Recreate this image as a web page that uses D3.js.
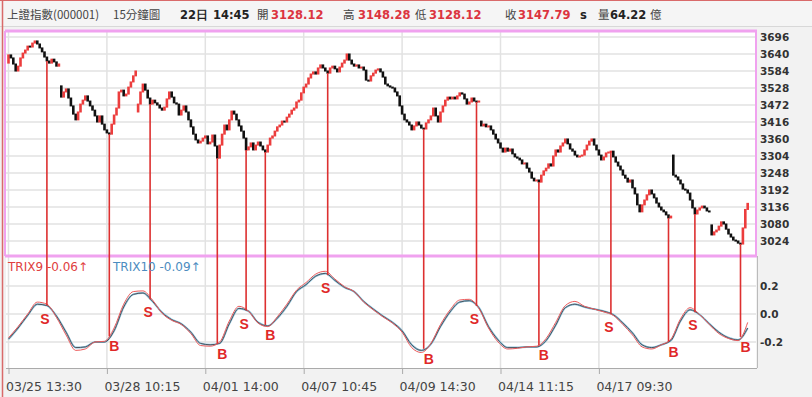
<!DOCTYPE html>
<html>
<head>
<meta charset="utf-8">
<script src="https://cdn.jsdelivr.net/npm/d3@7"></script>
<style>
body { margin: 0; background: #f2f2f2; }
svg { display: block; }
</style>
</head>
<body>
<div id="graph"></div>
<script>
// 15-minute closes, one per bar, 03/25 13:30 .. 04/22 14:45
var closes = [
	3637,3627,3607,3584,3600,3627,3643,3653,3666,3663,
	3676,3683,3673,3660,3647,3630,3617,3610,3623,3614,
	3600,3607,3498,3515,3525,3495,3469,3442,3423,3449,
	3475,3488,3502,3485,3469,3455,3436,3416,3436,3409,
	3390,3380,3376,3409,3439,3462,3515,3521,3502,3508,
	3531,3548,3568,3584,3475,3515,3541,3521,3495,3475,
	3488,3479,3472,3462,3455,3465,3492,3515,3498,3479,
	3475,3439,3455,3469,3449,3423,3400,3376,3357,3347,
	3353,3363,3370,3344,3350,3373,3337,3297,3340,3376,
	3406,3390,3423,3452,3442,3423,3403,3386,3363,3324,
	3334,3347,3324,3340,3350,3337,3324,3317,3340,3363,
	3370,3386,3400,3406,3419,3416,3432,3442,3455,3462,
	3482,3488,3512,3531,3541,3561,3574,3581,3574,3594,
	3604,3594,3584,3577,3594,3600,3591,3581,3597,3610,
	3620,3640,3620,3607,3600,3604,3594,3597,3587,3554,
	3551,3568,3577,3587,3591,3581,3564,3541,3535,3531,
	3528,3515,3502,3469,3442,3423,3416,3406,3390,3403,
	3416,3406,3396,3393,3413,3423,3436,3462,3436,3416,
	3449,3469,3488,3498,3492,3498,3492,3502,3512,3508,
	3492,3475,3482,3495,3485,3482,3485,3403,3409,3400,
	3403,3390,3376,3360,3347,3330,3317,3330,3320,3327,
	3311,3301,3297,3291,3278,3281,3264,3251,3231,3222,
	3225,3218,3241,3255,3264,3278,3271,3304,3324,3317,
	3337,3347,3360,3344,3327,3320,3307,3301,3304,3307,
	3324,3340,3353,3360,3340,3324,3307,3291,3301,3314,
	3317,3320,3301,3284,3271,3258,3241,3231,3218,3225,
	3199,3179,3143,3120,3143,3159,3176,3192,3179,3166,
	3149,3136,3126,3120,3110,3100,3106,3241,3235,3225,
	3212,3195,3192,3182,3159,3133,3113,3126,3133,3139,
	3133,3123,3120,3044,3054,3060,3073,3087,3080,3063,
	3047,3037,3027,3024,3017,3014,3067,3128,3148
];
// bars that open away from the previous close (session gaps)
var gapIdx  = [0, 22, 54, 197, 277, 293];
var gapOpen = [3610, 3535, 3449, 3419, 3307, 3077];

var priceTicks = [3024,3080,3136,3192,3248,3304,3360,3416,3472,3528,3584,3640,3696];

// TRIX values, one every 4 bars
var trixStep = 4;
var trix9 = [
	-0.17,-0.09,0.00,0.085,0.07,-0.025,-0.15,-0.26,-0.25,-0.20,
	-0.195,-0.10,0.07,0.16,0.165,0.10,0.005,-0.045,-0.075,-0.14,
	-0.225,-0.23,-0.20,-0.05,0.055,0.02,-0.065,-0.09,-0.02,0.07,
	0.17,0.225,0.285,0.305,0.25,0.195,0.16,0.085,0.03,-0.02,
	-0.065,-0.13,-0.24,-0.275,-0.21,-0.075,0.03,0.10,0.105,0.04,
	-0.10,-0.20,-0.25,-0.245,-0.235,-0.23,-0.175,-0.06,0.06,0.09,
	0.055,0.035,0.015,-0.01,-0.075,-0.15,-0.235,-0.25,-0.22,-0.18,
	-0.035,0.045,-0.005,-0.075,-0.14,-0.175,-0.19,-0.06
];
var trix10 = [
	-0.18,-0.10,-0.01,0.07,0.06,-0.015,-0.13,-0.24,-0.235,-0.20,
	-0.20,-0.12,0.05,0.14,0.15,0.09,0.01,-0.04,-0.07,-0.13,
	-0.21,-0.22,-0.21,-0.07,0.04,0.02,-0.06,-0.085,-0.03,0.055,
	0.16,0.21,0.27,0.29,0.24,0.19,0.16,0.09,0.035,-0.015,
	-0.06,-0.12,-0.22,-0.26,-0.215,-0.09,0.015,0.085,0.095,0.045,
	-0.09,-0.185,-0.24,-0.24,-0.235,-0.235,-0.19,-0.08,0.045,0.07,
	0.05,0.035,0.02,-0.005,-0.065,-0.135,-0.22,-0.24,-0.22,-0.19,
	-0.05,0.03,-0.005,-0.07,-0.13,-0.17,-0.185,-0.10
];
var trixTicks = [-0.2, 0, 0.2];

var tickIdx = [0, 41, 82, 123, 164, 205, 246];
var tickLabels = ["03/25 13:30","03/28 10:15","04/01 14:00","04/07 10:45","04/09 14:30","04/14 11:15","04/17 09:30"];

var signalIdx  = [16, 42, 59, 87, 99, 107, 133, 173, 195, 221, 251, 275, 286, 305];
var signalType = ["S","B","S","B","S","B","S","B","S","B","S","B","S","B"];

var headerText = ["上證指數(000001)","15分鐘圖","22日","14:45","開","3128.12","高","3148.28","低","3128.12","收","3147.79","s","量","64.22","億"];
var legendText = ["TRIX9 -0.06↑","TRIX10 -0.09↑"];

var W = 812, H = 397;
var left = 6, right = 756, top1 = 31, bot1 = 256, bot2 = 368;
var sans = "'DejaVu Sans', Verdana, sans-serif";

var svg = d3.select("div#graph").append("svg")
	.attr("width", W)
	.attr("height", H);

svg.append("rect").attr("width", W).attr("height", H).attr("fill", "#f2f2f2");

// header strip
svg.append("rect").attr("x", 0).attr("y", 0).attr("width", W).attr("height", 26).attr("fill", "#f5f5f5");
svg.append("line").attr("x1", 0).attr("x2", W).attr("y1", 26.5).attr("y2", 26.5).attr("stroke", "#d8d8d8");

// header items: label / black number / red number
var headerX    = [7, 113, 180, 213, 257, 271, 343, 358, 415, 429, 505, 518, 580, 598, 610, 650];
var headerKind = ["l","l","n","n","l","r","l","r","l","r","l","r","n","l","n","l"];
svg.append("g").selectAll("text").data(headerText).enter().append("text")
	.attr("x", function(d, i) { return headerX[i]; })
	.attr("y", 19)
	.attr("font-family", function(d, i) { return headerKind[i] == "l" ? "'Noto Sans CJK TC', sans-serif" : sans; })
	.attr("font-size", function(d, i) { return headerKind[i] == "l" ? 11.5 : 11.5; })
	.attr("font-weight", function(d, i) { return headerKind[i] == "l" ? "normal" : "bold"; })
	.attr("fill", function(d, i) { return headerKind[i] == "r" ? "#dc3440" : (headerKind[i] == "n" ? "#222" : "#444"); })
	.text(function(d) { return d; });

// plot backgrounds
svg.append("rect").attr("x", left).attr("y", top1).attr("width", right - left).attr("height", bot2 - top1).attr("fill", "#fff");

// scales
var x  = d3.scaleLinear().domain([0, 308]).range([8.5, 747.7]);
var yP = d3.scaleLinear().domain([3024, 3696]).range([241, 37]);
var yT = d3.scaleLinear().domain([-0.2, 0.2]).range([342, 286]);

var grid = svg.append("g").attr("stroke", "#e2e2e2").attr("stroke-width", 1.5);
grid.selectAll("line.hp").data(priceTicks).enter().append("line")
	.attr("x1", left).attr("x2", right)
	.attr("y1", function(d) { return yP(d); }).attr("y2", function(d) { return yP(d); });
grid.selectAll("line.ht").data(trixTicks).enter().append("line")
	.attr("x1", left).attr("x2", right)
	.attr("y1", function(d) { return yT(d); }).attr("y2", function(d) { return yT(d); });
grid.selectAll("line.v").data(tickIdx).enter().append("line")
	.attr("x1", function(d) { return x(d); }).attr("x2", function(d) { return x(d); })
	.attr("y1", top1).attr("y2", bot2);

// right axes
svg.append("g")
	.attr("transform", "translate(" + (right + 1) + ",0)")
	.call(d3.axisRight(yP).tickValues(priceTicks).tickSize(0).tickPadding(3).tickFormat(d3.format("d")))
	.call(function(g) { g.select(".domain").remove(); })
	.selectAll("text")
	.attr("font-family", sans).attr("font-size", 10.5).attr("font-weight", "bold").attr("fill", "#333");

svg.append("g")
	.attr("transform", "translate(" + (right + 1) + ",0)")
	.call(d3.axisRight(yT).tickValues(trixTicks).tickSize(0).tickPadding(3)
		.tickFormat(function(d) { return d.toFixed(1); }))
	.call(function(g) { g.select(".domain").remove(); })
	.selectAll("text")
	.attr("font-family", sans).attr("font-size", 10.5).attr("font-weight", "bold").attr("fill", "#333");

// bottom axis
var xAxis = svg.append("g")
	.attr("transform", "translate(0," + bot2 + ")")
	.call(d3.axisBottom(x).tickValues(tickIdx).tickSize(6).tickPadding(8)
		.tickFormat(function(d, i) { return tickLabels[i]; }));
xAxis.select(".domain").remove();
xAxis.selectAll("line").attr("stroke", "#aaa");
xAxis.selectAll("text")
	.attr("text-anchor", "start").attr("dx", -3)
	.attr("font-family", sans).attr("font-size", 12.5).attr("fill", "#444");
svg.append("line").attr("x1", left).attr("x2", right + 1).attr("y1", bot2 + 0.5).attr("y2", bot2 + 0.5).attr("stroke", "#aaa");
svg.append("line").attr("x1", right + 1.5).attr("x2", right + 1.5).attr("y1", bot1).attr("y2", bot2).attr("stroke", "#bbb");

// candles
var bars = closes.map(function(c, i) {
	var g = gapIdx.indexOf(i);
	var o = g >= 0 ? gapOpen[g] : closes[i - 1];
	return {i: i, o: o, c: c};
});
svg.append("g")
	.selectAll("rect").data(bars).enter().append("rect")
	.attr("x", function(d) { return x(d.i) - 1.3; })
	.attr("width", 2.6)
	.attr("y", function(d) { return yP(Math.max(d.o, d.c)) - 0.5; })
	.attr("height", function(d) { return Math.max(2, Math.abs(yP(d.o) - yP(d.c)) + 1); })
	.attr("fill", function(d) { return d.c >= d.o ? "#ec3d3d" : "#111"; });

// frame of the price panel
var frame = svg.append("g").attr("stroke", "#f0a2ef");
frame.append("line").attr("x1", left - 1).attr("x2", right + 1).attr("y1", top1).attr("y2", top1).attr("stroke-width", 3);
frame.append("line").attr("x1", left - 1).attr("x2", right + 1).attr("y1", bot1).attr("y2", bot1).attr("stroke-width", 3);
frame.append("line").attr("x1", right).attr("x2", right).attr("y1", top1).attr("y2", bot1).attr("stroke-width", 2);
frame.append("line").attr("x1", left - 1).attr("x2", left - 1).attr("y1", top1).attr("y2", bot1).attr("stroke-width", 2);

// TRIX lines
var trixLine = function(arr) {
	return d3.line()
		.x(function(d, k) { return x(k * trixStep); })
		.y(function(d) { return yT(d); })
		.curve(d3.curveMonotoneX)(arr);
};
svg.append("path").attr("d", trixLine(trix10)).attr("fill", "none").attr("stroke", "#8fc4dc").attr("stroke-width", 2);
svg.append("path").attr("d", trixLine(trix10)).attr("fill", "none").attr("stroke", "#4a5560").attr("stroke-width", 1);
svg.append("path").attr("d", trixLine(trix9)).attr("fill", "none").attr("stroke", "#ec5a5a").attr("stroke-width", 1);

function trixAt(i) {
	var k = Math.floor(i / trixStep), f = i / trixStep - k;
	var a = trix10[k], b = trix10[Math.min(k + 1, trix10.length - 1)];
	return a + (b - a) * f;
}

// buy / sell signals
var sig = svg.append("g");
sig.selectAll("line").data(signalIdx).enter().append("line")
	.attr("x1", function(d) { return x(d); }).attr("x2", function(d) { return x(d); })
	.attr("y1", function(d) { return yP(closes[d]); })
	.attr("y2", function(d) { return yT(trixAt(d)); })
	.attr("stroke", "#dd3030").attr("stroke-width", 1.6);
sig.selectAll("text").data(signalIdx).enter().append("text")
	.attr("x", function(d, i) { return x(d) + (signalType[i] == "B" ? 5 : -2); })
	.attr("y", function(d, i) { return yT(trixAt(d)) + (signalType[i] == "B" ? 15 : 18); })
	.attr("text-anchor", "middle")
	.attr("font-family", "'Liberation Sans', Arial, sans-serif")
	.attr("font-size", 14).attr("font-weight", "bold")
	.attr("fill", "#e02828")
	.text(function(d, i) { return signalType[i]; });

// legend
var legendX = [8, 113];
var legendColor = ["#e04040", "#4c8cc0"];
svg.append("g").selectAll("text").data(legendText).enter().append("text")
	.attr("x", function(d, i) { return legendX[i]; })
	.attr("y", 271)
	.attr("font-family", sans).attr("font-size", 12)
	.attr("fill", function(d, i) { return legendColor[i]; })
	.text(function(d) { return d; });

// outer red edge
svg.append("line").attr("x1", 0).attr("x2", W).attr("y1", 0.5).attr("y2", 0.5).attr("stroke", "#d96a6a");
svg.append("line").attr("x1", 2.5).attr("x2", 2.5).attr("y1", 0).attr("y2", H).attr("stroke", "#d96a6a").attr("stroke-width", 1.5);
</script>
</body>
</html>
